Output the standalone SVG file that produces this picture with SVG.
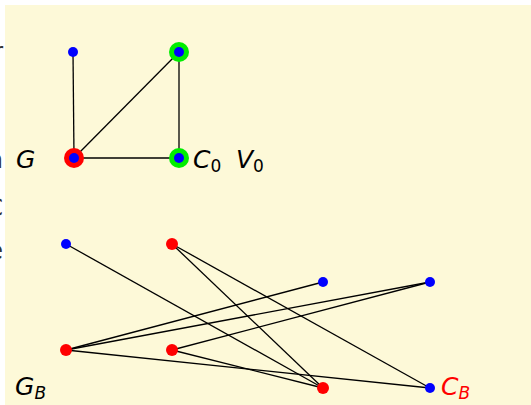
<svg xmlns="http://www.w3.org/2000/svg" width="531" height="405" viewBox="0 0 531 405">
<style>
.e{stroke:#000;stroke-width:1.3;fill:none}
.b{fill:#0000ff}
.r{fill:#ff0000}
.g{fill:#00ee00}
.t{font-family:"DejaVu Sans",sans-serif;font-style:italic;font-size:25px;fill:#000}
.s{font-size:17px;font-style:normal}
.si{font-size:17px;font-style:italic}
.f{font-family:"DejaVu Sans",sans-serif;font-size:24px;fill:#333}
</style>
<rect x="0" y="0" width="531" height="405" fill="#fff"/>
<g id="fragments">
<text class="f" x="3" y="60" text-anchor="end">r</text>
<text class="f" x="3" y="168" text-anchor="end">n</text>
<text class="f" x="3" y="216" text-anchor="end">C</text>
<text class="f" x="3" y="259" text-anchor="end">e</text>
</g>
<rect x="5" y="5" width="526" height="400" fill="#fdf9d8"/>
<g id="connectors">
<line class="e" x1="74" y1="158" x2="73" y2="52"/>
<line class="e" x1="74" y1="158" x2="179" y2="52"/>
<line class="e" x1="74" y1="158" x2="179" y2="158"/>
<line class="e" x1="179" y1="52" x2="179" y2="158"/>
<line class="e" x1="66" y1="244" x2="323" y2="388"/>
<line class="e" x1="172" y1="244" x2="323" y2="388"/>
<line class="e" x1="172" y1="244" x2="430" y2="388"/>
<line class="e" x1="66" y1="350" x2="323" y2="282"/>
<line class="e" x1="66" y1="350" x2="430" y2="282"/>
<line class="e" x1="66" y1="350" x2="430" y2="388"/>
<line class="e" x1="172" y1="350" x2="430" y2="282"/>
<line class="e" x1="172" y1="350" x2="323" y2="388"/>
</g>
<g id="a1"><circle class="b" cx="73" cy="52" r="5"/></g>
<g id="a2"><circle class="g" cx="179" cy="52" r="10"/><circle class="b" cx="179" cy="52" r="5"/></g>
<g id="a3"><circle class="r" cx="74" cy="158" r="10"/><circle class="b" cx="74" cy="158" r="5"/></g>
<g id="a4"><circle class="g" cx="179" cy="158" r="10"/><circle class="b" cx="179" cy="158" r="5"/></g>
<g id="b1"><circle class="b" cx="66" cy="244" r="5"/></g>
<g id="b2"><circle class="r" cx="172" cy="244" r="6"/></g>
<g id="b3"><circle class="b" cx="323" cy="282" r="5"/></g>
<g id="b4"><circle class="b" cx="430" cy="282" r="5"/></g>
<g id="b5"><circle class="r" cx="66" cy="350" r="6"/></g>
<g id="b6"><circle class="r" cx="172" cy="350" r="6"/></g>
<g id="b7"><circle class="r" cx="323" cy="388" r="6"/></g>
<g id="b8"><circle class="b" cx="430" cy="388" r="5"/></g>
<g id="labels">
<text class="t" x="16" y="168">G</text>
<text class="t" x="193" y="168">C<tspan class="s" dy="4">0</tspan></text>
<text class="t" x="236" y="168">V<tspan class="s" dy="4">0</tspan></text>
<text class="t" x="15" y="395">G<tspan class="si" dy="4">B</tspan></text>
<text class="t" x="441" y="395" style="fill:#ff0000">C<tspan class="si" dy="4">B</tspan></text>
</g>
</svg>
